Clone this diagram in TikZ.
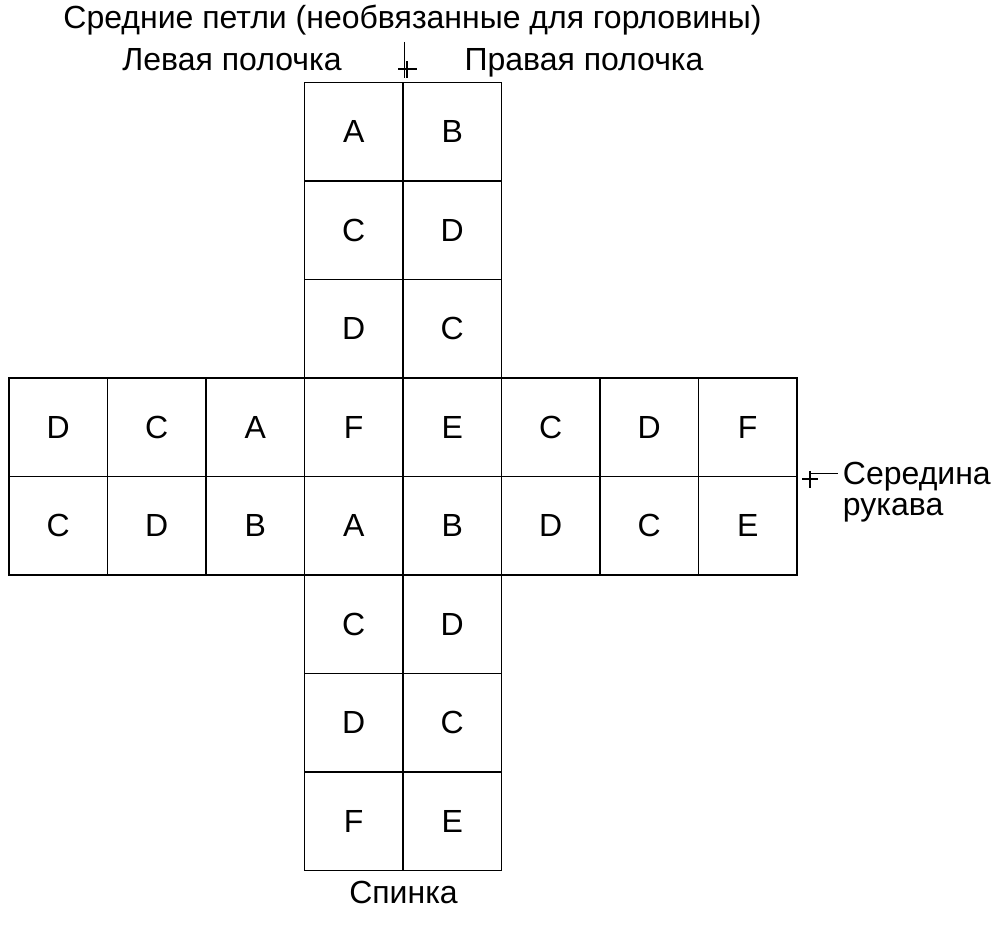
\documentclass[tikz,border=0pt]{standalone}
\usepackage{fontspec}
\setmainfont{Liberation Sans}

\tikzset{every picture/.style={line width=0.75pt}}
\tikzset{
  cell/.style={draw, line width=1.1pt, minimum width=73.875pt, minimum height=73.875pt, inner sep=0pt, font=\fontsize{24}{28}\selectfont},
  txt/.style={font=\fontsize{24}{28}\selectfont},
  cross/.style={line width=1.6pt}
}

\begin{document}
\begin{tikzpicture}[x=0.75pt,y=0.75pt,yscale=-1,xscale=1]
	%set diagram left start at 0, and has height of 930
	\path (0,0) rectangle (1000,930);
	
	%Shape: Grid, front pieces
	\foreach \l/\r [count=\j from 0] in {A/B,C/D,D/C} {
		\node[cell] (fl\j) at (353.75,{131.75+98.5*\j}) {\l};
		\node[cell] (fr\j) at (452.25,{131.75+98.5*\j}) {\r};
	}
	%Shape: Grid, sleeves band
	\foreach \a/\b [count=\i from 0] in {D/C,C/D,A/B,F/A,E/B,C/D,D/C,F/E} {
		\node[cell] (up\i) at ({58.25+98.5*\i},427.25) {\a};
		\node[cell] (lo\i) at ({58.25+98.5*\i},525.75) {\b};
	}
	%Shape: Grid, back
	\foreach \l/\r [count=\j from 5] in {C/D,D/C,F/E} {
		\node[cell] (bl\j) at (353.75,{131.75+98.5*\j}) {\l};
		\node[cell] (br\j) at (452.25,{131.75+98.5*\j}) {\r};
	}
	
	% Text Node
	\node[txt, anchor=base] (title) at (412.5,28.5) {Средние петли (необвязанные для горловины)};
	% Text Node
	\node[txt, anchor=base] (left) at (232,71) {Левая полочка};
	% Text Node
	\node[txt, anchor=base] (right) at (584,71) {Правая полочка};
	% Text Node
	\node[txt, anchor=base] (back) at (403.5,903) {Спинка};
	% Text Node
	\node[txt, anchor=base west] (sleeve) at (838,484) {Середина};
	% Text Node
	\node[txt, anchor=base west] (sleeve2) at (838,516) {рукава};
	
	%Straight Lines: middle mark
	\coordinate (midtick) at (404,42);
	\coordinate (midend) at (404,78);
	\draw (midtick) -- (midend);
	\draw[cross] (398,69) -- (417,69) (407,61.5) -- (407,78);
	
	%Straight Lines: sleeve mark
	\coordinate (sleevemark) at (810,474);
	\draw (sleevemark) -- (sleevemark -| sleeve.west);
	\draw[cross] (802,479) -- (818,479) (810,471) -- (810,488);
	
\end{tikzpicture}
\end{document}
